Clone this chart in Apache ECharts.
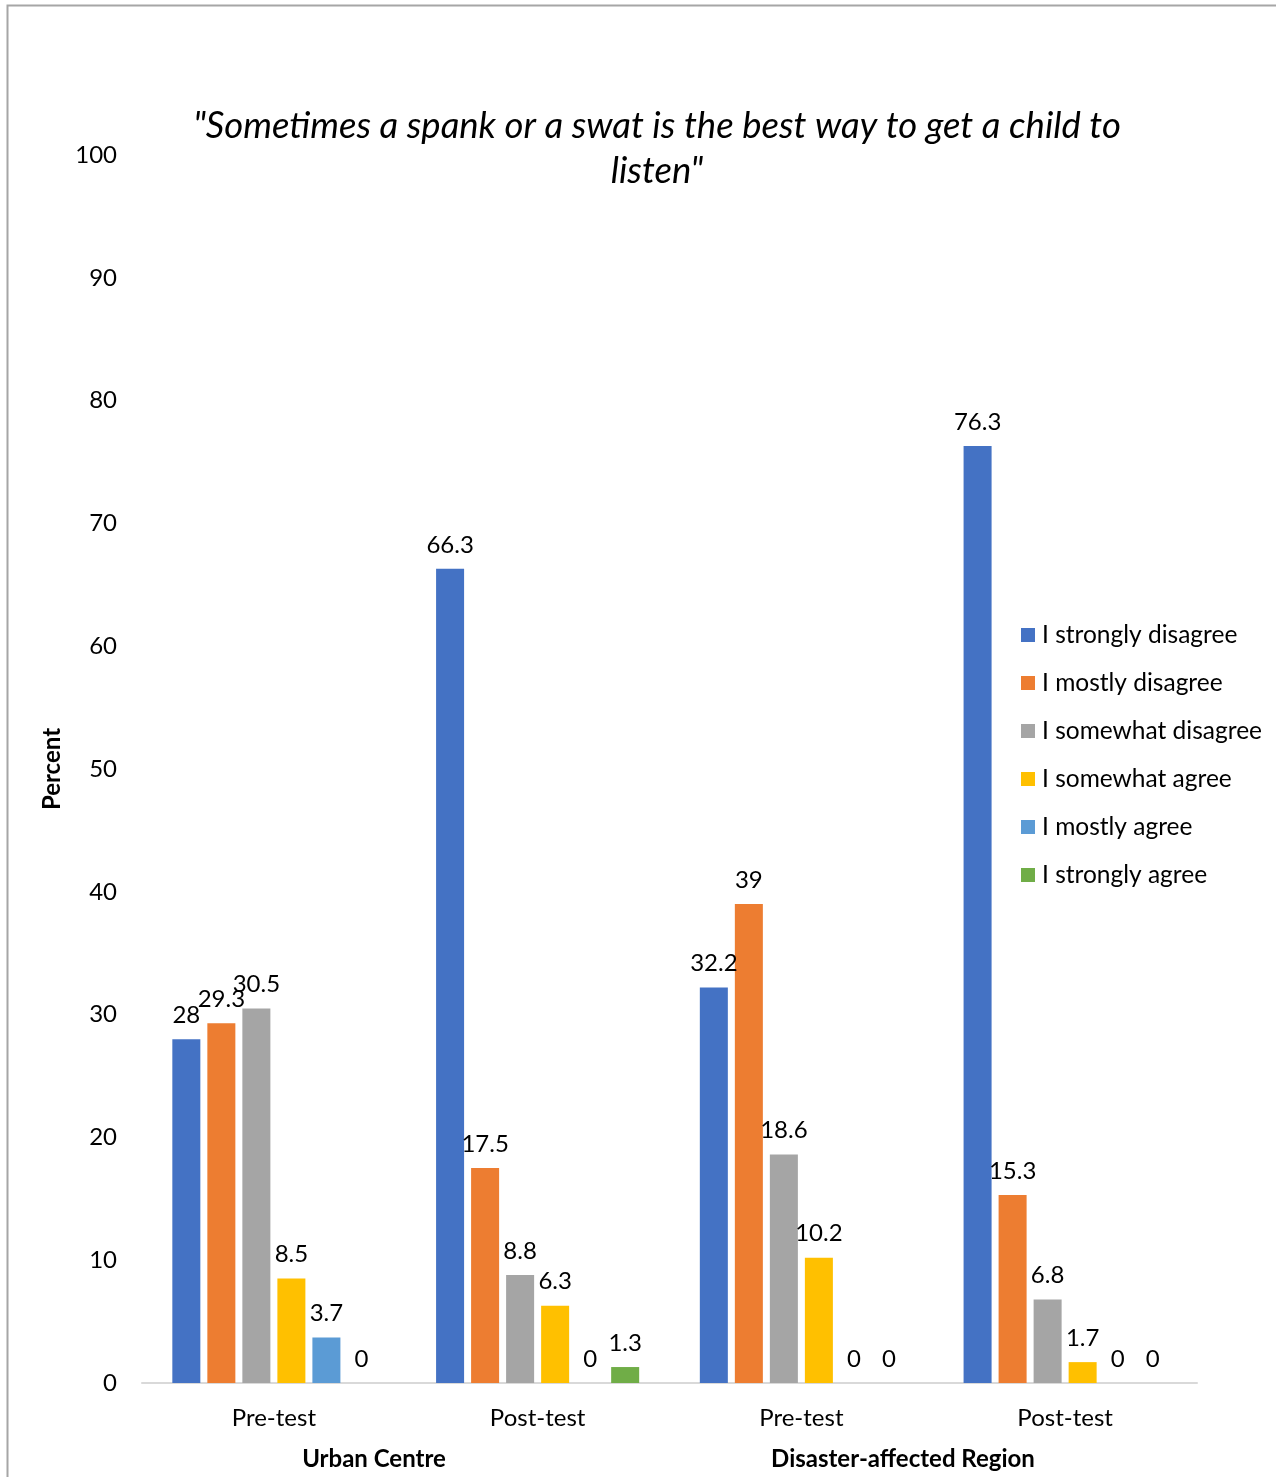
<!DOCTYPE html>
<html>
<head>
<meta charset="utf-8">
<script src="https://cdn.jsdelivr.net/npm/echarts@6/dist/echarts.min.js"></script>
<style>
  html, body { margin: 0; padding: 0; background: #fff; }
  #chart { width: 1276px; height: 1477px; }
</style>
</head>
<body>
<div id="chart"></div>
<script>
// Survey responses by phase (percent)
const phases = ['Pre-test', 'Post-test', 'Pre-test', 'Post-test'];
const groups = ['Urban Centre', 'Disaster-affected Region'];
const yTicks = [0, 10, 20, 30, 40, 50, 60, 70, 80, 90, 100];

const stronglyDisagree = [28, 66.3, 32.2, 76.3];
const mostlyDisagree   = [29.3, 17.5, 39, 15.3];
const somewhatDisagree = [30.5, 8.8, 18.6, 6.8];
const somewhatAgree    = [8.5, 6.3, 10.2, 1.7];
const mostlyAgree      = [3.7, 0, 0, 0];
const stronglyAgree    = [0, 1.3, 0, 0];

const seriesNames = [
  'I strongly disagree', 'I mostly disagree', 'I somewhat disagree',
  'I somewhat agree', 'I mostly agree', 'I strongly agree'
];
const seriesData = [stronglyDisagree, mostlyDisagree, somewhatDisagree,
                    somewhatAgree, mostlyAgree, stronglyAgree];
const colors = ['#4472C4', '#ED7D31', '#A5A5A5', '#FFC000', '#5B9BD5', '#70AD47'];

const FONT = 'Lato, "Open Sans", sans-serif';
const FS = 24;
const chart = echarts.init(document.getElementById('chart'));

const series = seriesNames.map((name, i) => ({
  name: name,
  type: 'bar',
  data: seriesData[i],
  barGap: '25%',
  barCategoryGap: '23%',
  itemStyle: { color: colors[i] },
  label: {
    show: true,
    position: 'top',
    distance: 12,
    color: '#000',
    fontFamily: FONT,
    fontSize: FS
  }
}));

chart.setOption({
  animation: false,
  color: colors,
  textStyle: { fontFamily: FONT },
  title: {
    text: '"Sometimes a spank or a swat is the best way to get a child to\nlisten"',
    left: 657,
    top: 104,
    textAlign: 'center',
    padding: 0,
    textStyle: {
      fontFamily: FONT,
      fontStyle: 'italic',
      fontWeight: 'normal',
      fontSize: 36.5,
      lineHeight: 45,
      color: '#000'
    }
  },
  legend: {
    orient: 'vertical',
    left: 1021,
    top: 621,
    padding: 0,
    itemWidth: 14,
    itemHeight: 14,
    itemGap: 20,
    icon: 'rect',
    textStyle: { fontFamily: FONT, fontSize: 24.5, color: '#000', lineHeight: 28, padding: [0, 0, 0, 2] },
    data: seriesNames
  },
  grid: { left: 142, right: 79, top: 155, bottom: 94, containLabel: false },
  xAxis: {
    type: 'category',
    data: phases,
    axisLine: { show: true, lineStyle: { color: '#D9D9D9', width: 2 } },
    axisTick: { show: false },
    axisLabel: { color: '#000', fontFamily: FONT, fontSize: FS, margin: 23 }
  },
  yAxis: {
    type: 'value',
    min: yTicks[0],
    max: yTicks[yTicks.length - 1],
    interval: 10,
    name: 'Percent',
    nameLocation: 'middle',
    nameGap: 67,
    nameRotate: 90,
    nameTextStyle: { fontFamily: FONT, fontSize: FS, fontWeight: 'bold', color: '#000' },
    axisLine: { show: false },
    axisTick: { show: false },
    splitLine: { show: false },
    axisLabel: { color: '#000', fontFamily: FONT, fontSize: FS, margin: 25 }
  },
  graphic: [
    {
      type: 'rect',
      shape: { x: 7.5, y: 5.5, width: 1300, height: 1500 },
      style: { fill: 'none', stroke: '#A6A6A6', lineWidth: 2 },
      silent: true
    },
    {
      type: 'text',
      x: 374, y: 1459,
      style: { text: groups[0], fontFamily: FONT, fontSize: FS, fontWeight: 'bold', fill: '#000', textAlign: 'center', textVerticalAlign: 'middle' }
    },
    {
      type: 'text',
      x: 903, y: 1459,
      style: { text: groups[1], fontFamily: FONT, fontSize: FS, fontWeight: 'bold', fill: '#000', textAlign: 'center', textVerticalAlign: 'middle' }
    }
  ],
  series: series
});
</script>
</body>
</html>
